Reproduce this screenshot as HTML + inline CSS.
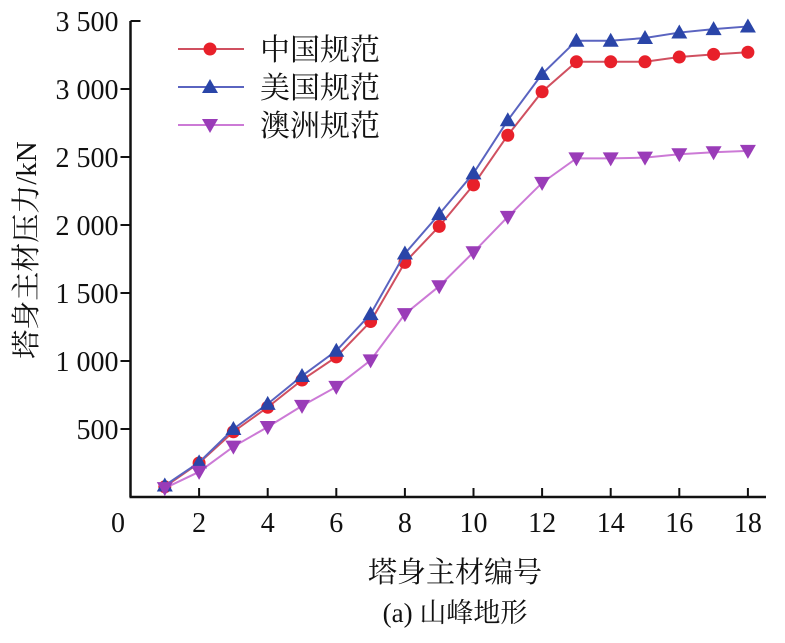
<!DOCTYPE html>
<html><head><meta charset="utf-8"><style>
body{margin:0;background:#fff}
svg text{font-family:"Liberation Serif","Noto Serif CJK SC","Noto Sans CJK SC",serif;fill:#111}
</style></head><body>
<svg width="785" height="638" viewBox="0 0 785 638">
<g id="axes"></g>
<g id="series"></g>
<g id="legend"></g>
<text x="455" y="582" font-size="29" text-anchor="middle">塔身主材编号</text>
<text x="455" y="622" font-size="27" text-anchor="middle">(a) 山峰地形</text>
<text transform="translate(36,250) rotate(-90)" font-size="29" text-anchor="middle">塔身主材压力/kN</text>
</svg>
<script>
const categories=[1,2,3,4,5,6,7,8,9,10,11,12,13,14,15,16,17,18];
const chinaValues=[75,250,480,660,860,1030,1290,1725,1990,2295,2660,2980,3200,3200,3200,3235,3255,3270];
const usaValues=[85,255,500,685,890,1075,1345,1790,2080,2380,2770,3110,3355,3355,3375,3415,3440,3460];
const ausValues=[65,185,370,515,670,810,1005,1345,1550,1800,2060,2310,2490,2490,2495,2520,2535,2545];
const xTicks=[0,2,4,6,8,10,12,14,16,18];
const yTicks=[500,1000,1500,2000,2500,3000,3500];
const yTickLabels=["500","1 000","1 500","2 000","2 500","3 000","3 500"];
const seriesNames=["中国规范","美国规范","澳洲规范"];
const NS="http://www.w3.org/2000/svg";
const X0=130.5,XS=34.3,Y0=497,YS=68/500;
const sx=v=>X0+v*XS, sy=v=>Y0-v*YS;
function mk(t,a,p){const e=document.createElementNS(NS,t);for(const k in a)e.setAttribute(k,a[k]);p.appendChild(e);return e;}
const ax=document.getElementById('axes');
let l=mk('line',{x1:X0,y1:sy(3500),x2:X0,y2:Y0,stroke:'#111','stroke-width':2.5},ax);


l=mk('line',{x1:X0-1,y1:Y0,x2:766,y2:Y0,stroke:'#111','stroke-width':2.5},ax);


yTicks.forEach((v,i)=>{
 const y=sy(v);
 const last=i===yTicks.length-1;
 const t=mk('line',{x1:last?X0:X0-10,y1:y,x2:last?X0+10:X0,y2:y,stroke:'#111','stroke-width':2},ax);
 
 
 const tx=mk('text',{x:X0-12,y:y+10,'font-size':28,'text-anchor':'end'},ax);
 tx.textContent=yTickLabels[i];
 
 
});
xTicks.forEach(v=>{
 const x=sx(v);
 if(v>0){const t=mk('line',{x1:x,y1:Y0,x2:x,y2:Y0-9,stroke:'#111','stroke-width':2},ax);
 
 }
 const tx=mk('text',{x:v===0?118:x,y:532,'font-size':28,'text-anchor':'middle'},ax);
 tx.textContent=v;
 
 
});
const styles=[{line:'#d05060',fill:'#e8202a',m:'circle'},{line:'#5a64c0',fill:'#2a45a8',m:'up'},{line:'#cc7ad6',fill:'#9a3cb8',m:'down'}];
function marker(p,x,y,s){
 if(s.m==='circle')return mk('circle',{cx:x,cy:y,r:6.5,fill:s.fill},p);
 if(s.m==='up')return mk('polygon',{points:`${x},${y-8} ${x-8},${y+6} ${x+8},${y+6}`,fill:s.fill},p);
 return mk('polygon',{points:`${x},${y+8} ${x-8},${y-6} ${x+8},${y-6}`,fill:s.fill},p);
}
const sg=document.getElementById('series');
[chinaValues,usaValues,ausValues].forEach((vals,si)=>{
 const s=styles[si];
 const g=mk('g',{},sg);
 
 
 const pl=mk('polyline',{points:vals.map((v,i)=>sx(categories[i])+','+sy(v)).join(' '),fill:'none',stroke:s.line,'stroke-width':2},g);
 
 
 vals.forEach((v,i)=>{const m=marker(g,sx(categories[i]),sy(v),s);
  
  });
});
const lg=document.getElementById('legend');
seriesNames.forEach((n,i)=>{
 const y=49+i*38,s=styles[i];
 const g=mk('g',{},lg);
 
 
 mk('line',{x1:178,y1:y,x2:244,y2:y,stroke:s.line,'stroke-width':2},g);
 marker(g,210,y,s);
 const t=mk('text',{x:260,y:y+11,'font-size':30},g);
 t.textContent=n;
 
 
});
</script>
</body></html>
